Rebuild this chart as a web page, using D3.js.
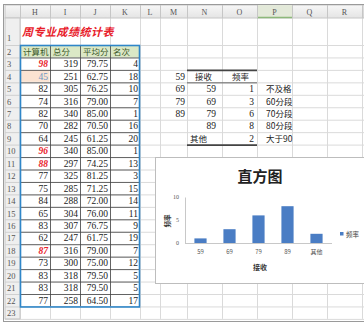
<!DOCTYPE html>
<html>
<head>
<meta charset="utf-8">
<script src="https://cdn.jsdelivr.net/npm/d3@7"></script>
<style>
  body { margin: 0; background: #fff; }
  svg { display: block; }
  text { font-family: "Liberation Serif", "Noto Sans CJK SC", serif; }
  .cjk { font-family: "Noto Sans CJK SC", sans-serif; }
</style>
</head>
<body>
<svg id="sheet" width="364" height="326"></svg>
<script>
// sheet content
var colLetters = ["H", "I", "J", "K", "L", "M", "N", "O", "P", "Q", "R"];
var colEdges = [20, 50, 80, 110, 140, 160, 187, 222, 257, 292, 327, 362];
var tableTitle = "周专业成绩统计表";
var fieldNames = ["计算机", "总分", "平均分", "名次"];
var computerScores = [98, 45, 82, 74, 82, 70, 64, 96, 88, 77, 75, 84, 65, 83, 62, 87, 73, 83, 83, 77];
var totalScores = [319, 251, 305, 316, 340, 282, 245, 340, 297, 325, 285, 288, 304, 307, 247, 316, 300, 318, 318, 258];
var avgScores = [79.75, 62.75, 76.25, 79.00, 85.00, 70.50, 61.25, 85.00, 74.25, 81.25, 71.25, 72.00, 76.00, 76.75, 61.75, 79.00, 75.00, 79.50, 79.50, 64.50];
var ranks = [4, 18, 10, 7, 1, 16, 20, 1, 13, 3, 15, 14, 11, 9, 19, 7, 12, 5, 5, 17];

// histogram
var binEdges = [59, 69, 79, 89];
var binLabels = ["59", "69", "79", "89", "其他"];
var frequencies = [1, 3, 6, 8, 2];
var bandNames = ["不及格", "60分段", "70分段", "80分段", "大于90"];
var chartTitle = "直方图";
var xTitle = "接收";
var yTitle = "频率";

var svg = d3.select("#sheet");

var rowPitch = 12.45;
function rowTop(r) { return r === 1 ? 18 : 45 + (r - 2) * rowPitch; }
function rowBottom(r) { return r === 1 ? 45 : rowTop(r) + rowPitch; }
function rowMid(r) { return (rowTop(r) + rowBottom(r)) / 2; }
function colLeft(c) { return colEdges[colLetters.indexOf(c)]; }
function colRight(c) { return colEdges[colLetters.indexOf(c) + 1]; }

// grid background
var rows = d3.range(1, 24);
svg.append("g").selectAll("line.h")
  .data(rows)
  .join("line")
  .attr("x1", 5).attr("x2", 364)
  .attr("y1", function(r) { return rowBottom(r) + 0.5; })
  .attr("y2", function(r) { return rowBottom(r) + 0.5; })
  .attr("stroke", "#dadada");
svg.append("g").selectAll("line.v")
  .data(colEdges)
  .join("line")
  .attr("x1", function(x) { return x + 0.5; })
  .attr("x2", function(x) { return x + 0.5; })
  .attr("y1", 5).attr("y2", rowBottom(23))
  .attr("stroke", "#dadada");

// column header bar
var grad = svg.append("defs").append("linearGradient")
  .attr("id", "hdr").attr("x1", 0).attr("x2", 0).attr("y1", 0).attr("y2", 1);
grad.append("stop").attr("offset", 0).attr("stop-color", "#f7f7f7");
grad.append("stop").attr("offset", 1).attr("stop-color", "#e4e4e4");

svg.append("rect").attr("x", 5).attr("y", 5).attr("width", 359).attr("height", 13)
  .attr("fill", "url(#hdr)").attr("stroke", "#c6c6c6");
svg.append("rect").attr("x", colLeft("P")).attr("y", 5)
  .attr("width", colRight("P") - colLeft("P")).attr("height", 13)
  .attr("fill", "#e3e9d9");
svg.append("line").attr("x1", colLeft("P")).attr("x2", colRight("P"))
  .attr("y1", 17.5).attr("y2", 17.5).attr("stroke", "#8cb87a").attr("stroke-width", 1.5);

svg.append("g").selectAll("text")
  .data(colLetters)
  .join("text")
  .attr("x", function(c) { return (colLeft(c) + colRight(c)) / 2; })
  .attr("y", 14.5)
  .attr("text-anchor", "middle")
  .attr("font-size", 8)
  .attr("fill", "#555")
  .text(function(c) { return c; });

svg.append("g").selectAll("line")
  .data(colEdges)
  .join("line")
  .attr("x1", function(x) { return x + 0.5; })
  .attr("x2", function(x) { return x + 0.5; })
  .attr("y1", 5).attr("y2", 18)
  .attr("stroke", "#c6c6c6");

// row number column
svg.append("rect").attr("x", 5).attr("y", 18).attr("width", 15).attr("height", rowBottom(23) - 18)
  .attr("fill", "#efefef").attr("stroke", "#c6c6c6");
svg.append("g").selectAll("text")
  .data(rows)
  .join("text")
  .attr("x", 7)
  .attr("y", function(r) { return r === 1 ? 41 : rowMid(r) + 3.5; })
  .attr("font-size", 8.5)
  .attr("fill", "#555")
  .text(function(r) { return r; });
svg.append("g").selectAll("line")
  .data(rows)
  .join("line")
  .attr("x1", 5).attr("x2", 20)
  .attr("y1", function(r) { return rowBottom(r) + 0.5; })
  .attr("y2", function(r) { return rowBottom(r) + 0.5; })
  .attr("stroke", "#d0d0d0");

// left table: title
svg.append("text")
  .attr("class", "cjk")
  .attr("x", 22).attr("y", 36)
  .attr("font-size", 11).attr("font-weight", "bold").attr("font-style", "italic")
  .attr("letter-spacing", 0.5)
  .attr("fill", "#e8202a")
  .text(tableTitle);

var leftCols = ["H", "I", "J", "K"];
svg.append("g").selectAll("rect")
  .data(leftCols)
  .join("rect")
  .attr("x", function(c) { return colLeft(c); })
  .attr("y", rowTop(2))
  .attr("width", function(c) { return colRight(c) - colLeft(c); })
  .attr("height", rowPitch)
  .attr("fill", "#dbe8c6");
svg.append("g").selectAll("text")
  .data(fieldNames)
  .join("text")
  .attr("class", "cjk")
  .attr("x", function(d, i) { return colLeft(leftCols[i]) + 3; })
  .attr("y", rowMid(2) + 3.5)
  .attr("font-size", 8.5)
  .attr("fill", "#3d5a2a")
  .text(function(d) { return d; });

// cell for a failing score
var lowIndex = computerScores.findIndex(function(v) { return v < 60; });
svg.append("rect")
  .attr("x", colLeft("H") + 0.5).attr("y", rowTop(3 + lowIndex) + 0.5)
  .attr("width", 29).attr("height", rowPitch - 1)
  .attr("fill", "#fbe3d2");

var tableRows = computerScores.map(function(v, i) {
  return [v, totalScores[i], avgScores[i].toFixed(2), ranks[i]];
});
var bodyRows = svg.append("g").selectAll("g")
  .data(tableRows)
  .join("g");
bodyRows.selectAll("text")
  .data(function(d, i) { return d.map(function(v, j) { return { v: v, j: j, r: i + 3 }; }); })
  .join("text")
  .attr("x", function(d) { return colRight(leftCols[d.j]) - 2; })
  .attr("y", function(d) { return rowMid(d.r) + 3.5; })
  .attr("text-anchor", "end")
  .attr("font-size", 9.5)
  .attr("font-weight", function(d) { return d.j === 0 && d.v > 85 ? "bold" : null; })
  .attr("font-style", function(d) { return d.j === 0 && d.v > 85 ? "italic" : null; })
  .attr("fill", function(d) {
    if (d.j === 0 && d.v > 85) return "#e8202a";
    if (d.j === 0 && d.v < 60) return "#6f95c2";
    return "#222";
  })
  .text(function(d) { return d.v; });

// inner lines of the left table
svg.append("g").selectAll("line")
  .data(d3.range(2, 22))
  .join("line")
  .attr("x1", 20).attr("x2", 140)
  .attr("y1", function(r) { return rowBottom(r) + 0.5; })
  .attr("y2", function(r) { return rowBottom(r) + 0.5; })
  .attr("stroke", "#444").attr("stroke-width", 0.8);
svg.append("g").selectAll("line")
  .data([50, 80, 110])
  .join("line")
  .attr("x1", function(x) { return x + 0.5; })
  .attr("x2", function(x) { return x + 0.5; })
  .attr("y1", rowTop(2)).attr("y2", rowBottom(22))
  .attr("stroke", "#444").attr("stroke-width", 0.8);
svg.append("rect")
  .attr("x", 20.5).attr("y", rowTop(2) + 0.5)
  .attr("width", 119).attr("height", rowBottom(22) - rowTop(2))
  .attr("fill", "none").attr("stroke", "#2f86c8").attr("stroke-width", 1.6);

// right table
svg.append("g").selectAll("text")
  .data(binEdges)
  .join("text")
  .attr("x", colRight("M") - 2)
  .attr("y", function(d, i) { return rowMid(4 + i) + 3.5; })
  .attr("text-anchor", "end")
  .attr("font-size", 9.5).attr("fill", "#222")
  .text(function(d) { return d; });

svg.append("text").attr("class", "cjk")
  .attr("x", colLeft("N") + 8).attr("y", rowMid(4) + 3.5)
  .attr("font-size", 8.5).attr("fill", "#222").text(xTitle);
svg.append("text").attr("class", "cjk")
  .attr("x", colLeft("O") + 10).attr("y", rowMid(4) + 3.5)
  .attr("font-size", 8.5).attr("fill", "#222").text(yTitle);

svg.append("g").selectAll("text")
  .data(binLabels)
  .join("text")
  .attr("class", function(d, i) { return i === binLabels.length - 1 ? "cjk" : null; })
  .attr("x", function(d, i) { return i === binLabels.length - 1 ? colLeft("N") + 3 : colRight("N") - 6; })
  .attr("y", function(d, i) { return rowMid(5 + i) + 3.5; })
  .attr("text-anchor", function(d, i) { return i === binLabels.length - 1 ? "start" : "end"; })
  .attr("font-size", function(d, i) { return i === binLabels.length - 1 ? 8.5 : 9.5; })
  .attr("fill", "#222")
  .text(function(d) { return d; });

svg.append("g").selectAll("text")
  .data(frequencies)
  .join("text")
  .attr("x", colRight("O") - 3)
  .attr("y", function(d, i) { return rowMid(5 + i) + 3.5; })
  .attr("text-anchor", "end")
  .attr("font-size", 9.5).attr("fill", "#222")
  .text(function(d) { return d; });

svg.append("g").selectAll("text")
  .data(bandNames)
  .join("text")
  .attr("class", "cjk")
  .attr("x", colLeft("P") + 9)
  .attr("y", function(d, i) { return rowMid(5 + i) + 3.5; })
  .attr("font-size", 8.5).attr("fill", "#222")
  .text(function(d) { return d; });

svg.append("line").attr("x1", colLeft("N")).attr("x2", colRight("O"))
  .attr("y1", rowTop(4) + 0.5).attr("y2", rowTop(4) + 0.5)
  .attr("stroke", "#444").attr("stroke-width", 1.8);
svg.append("line").attr("x1", colLeft("N")).attr("x2", colRight("O"))
  .attr("y1", rowBottom(4) + 0.5).attr("y2", rowBottom(4) + 0.5)
  .attr("stroke", "#444").attr("stroke-width", 0.8);
svg.append("line").attr("x1", colLeft("N")).attr("x2", colRight("O"))
  .attr("y1", rowBottom(9) + 0.5).attr("y2", rowBottom(9) + 0.5)
  .attr("stroke", "#444").attr("stroke-width", 1.8);

// chart
var chart = svg.append("g");
chart.append("rect")
  .attr("x", 155.5).attr("y", 157.5).attr("width", 220).attr("height", 126)
  .attr("fill", "#fff").attr("stroke", "#bdbdbd");

chart.append("text").attr("class", "cjk")
  .attr("x", 260).attr("y", 182)
  .attr("text-anchor", "middle")
  .attr("font-size", 15).attr("font-weight", "bold").attr("fill", "#222")
  .text(chartTitle);

var x = d3.scaleBand().domain(binLabels).range([186, 331]).paddingInner(0.58).paddingOuter(0.29);
var y = d3.scaleLinear().domain([0, 10]).range([243, 197]);

chart.selectAll("rect.bar")
  .data(frequencies)
  .join("rect")
  .attr("class", "bar")
  .attr("x", function(d, i) { return x(binLabels[i]); })
  .attr("y", function(d) { return y(d); })
  .attr("width", x.bandwidth())
  .attr("height", function(d) { return y(0) - y(d); })
  .attr("fill", "#4a7dc4");

var xAxis = chart.append("g")
  .attr("transform", "translate(0," + y(0) + ")")
  .call(d3.axisBottom(x).tickSize(0).tickPadding(7));
xAxis.select(".domain").attr("stroke", "#c8c8c8").attr("d", "M185,0.5H332");
xAxis.selectAll("text")
  .attr("class", "cjk")
  .attr("font-size", 6).attr("fill", "#555");

var yAxis = chart.append("g")
  .attr("transform", "translate(185,0)")
  .call(d3.axisLeft(y).tickValues([0, 5, 10]).tickSize(0).tickPadding(6));
yAxis.select(".domain").attr("stroke", "#c8c8c8");
yAxis.selectAll("text")
  .attr("font-family", "Liberation Sans, sans-serif")
  .attr("font-size", 6).attr("fill", "#555");

chart.append("text").attr("class", "cjk")
  .attr("transform", "translate(170,221) rotate(-90)")
  .attr("text-anchor", "middle")
  .attr("font-size", 6.5).attr("font-weight", "bold").attr("fill", "#333")
  .text(yTitle);
chart.append("text").attr("class", "cjk")
  .attr("x", 260).attr("y", 270)
  .attr("text-anchor", "middle")
  .attr("font-size", 7).attr("font-weight", "bold").attr("fill", "#333")
  .text(xTitle);

// legend
chart.append("rect").attr("x", 340).attr("y", 232).attr("width", 3.5).attr("height", 3.5)
  .attr("fill", "#4a7dc4");
chart.append("text").attr("class", "cjk")
  .attr("x", 346).attr("y", 236.5)
  .attr("font-size", 6.5).attr("fill", "#444")
  .text(yTitle);

// window frame
svg.append("rect").attr("x", 3.5).attr("y", 4.5).attr("width", 364).attr("height", 317)
  .attr("fill", "none").attr("stroke", "#9a9a9a");
</script>
</body>
</html>
